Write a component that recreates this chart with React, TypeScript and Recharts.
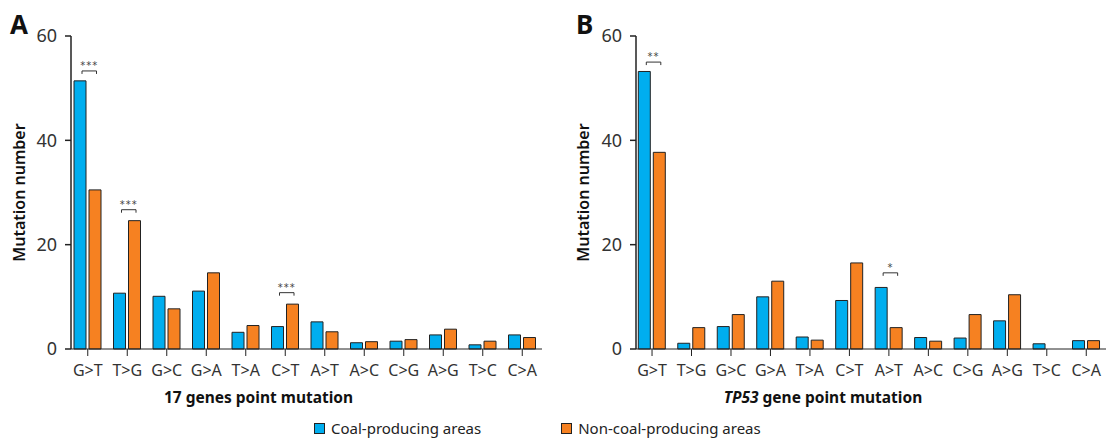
import React from 'react';
import { BarChart, Bar, XAxis, YAxis } from 'recharts';

const categories = ['G>T', 'T>G', 'G>C', 'G>A', 'T>A', 'C>T', 'A>T', 'A>C', 'C>G', 'A>G', 'T>C', 'C>A'];
const seriesNames = ['Coal-producing areas', 'Non-coal-producing areas'];

const coalA = [51.4, 10.7, 10.1, 11.1, 3.2, 4.3, 5.2, 1.2, 1.5, 2.7, 0.8, 2.7];
const nonCoalA = [30.5, 24.6, 7.7, 14.6, 4.5, 8.6, 3.3, 1.4, 1.8, 3.8, 1.5, 2.2];
const coalB = [53.2, 1.1, 4.3, 10.0, 2.3, 9.3, 11.8, 2.2, 2.1, 5.4, 1.0, 1.6];
const nonCoalB = [37.7, 4.1, 6.6, 13.0, 1.7, 16.5, 4.1, 1.5, 6.6, 10.4, 0, 1.6];

const yTicks = [0, 20, 40, 60];

// significance brackets: category, stars, height of bracket (data units)
const sigA = [
  { cat: 'G>T', mark: '***', level: 53.3 },
  { cat: 'T>G', mark: '***', level: 26.7 },
  { cat: 'C>T', mark: '***', level: 10.8 },
];
const sigB = [
  { cat: 'G>T', mark: '**', level: 55 },
  { cat: 'A>T', mark: '*', level: 14.6 },
];

const BLUE = '#00aeef';
const ORANGE = '#f68121';
const FONT = '"Noto Sans", sans-serif';

const build = (coal: number[], nonCoal: number[]) =>
  categories.map((cat, i) => ({ cat, coal: coal[i], nonCoal: nonCoal[i] }));

const makeBracket = (data: any[], sigs: any[]) => (props: any) => {
  const { x, y, width, height, index, value } = props;
  const row = data[index];
  const sig = row && sigs.find((s) => s.cat === row.cat);
  if (!sig || !value) return null;
  const base = y + height;
  const yb = base - sig.level * (height / value);
  const x1 = x + width / 2 + 2;
  const x2 = x + width * 1.5 + 3 + 1.5;
  return (
    <g key={`sig-${index}`}>
      <path d={`M${x1},${yb + 3}V${yb}H${x2}V${yb + 3}`} fill="none" stroke="#333" strokeWidth={1} />
      <text
        x={(x1 + x2) / 2}
        y={yb + 4}
        textAnchor="middle"
        fontSize={10}
        letterSpacing={1}
        fill="#444"
        fontFamily="'DejaVu Sans', sans-serif"
        dy={-6}
      >
        {sig.mark}
      </text>
    </g>
  );
};

interface PanelProps {
  data: any[];
  sigs: any[];
  letter: string;
  title: React.ReactNode;
  left: number;
  width: number;
  yAxisWidth: number;
  marginRight: number;
  padLeft: number;
  yTitleX: number;
}

const Panel = ({ data, sigs, letter, title, left, width, yAxisWidth, marginRight, padLeft, yTitleX }: PanelProps) => (
  <div style={{ position: 'absolute', left, top: 0 }}>
    <svg style={{ position: 'absolute', left: 0, top: 0, overflow: 'visible' }} width={30} height={40}>
      <text x={left === 0 ? 10 : 16} y={34} fontSize={26} fontWeight={700} fontFamily={FONT} fill="#111">
        {letter}
      </text>
    </svg>
    <BarChart
      width={width}
      height={439}
      data={data}
      margin={{ top: 36, right: marginRight, bottom: 0, left: 0 }}
      barSize={12}
      barGap={3}
    >
      <XAxis
        dataKey="cat"
        height={90}
        padding={{ left: padLeft, right: 0 }}
        interval={0}
        tickSize={7}
        tickMargin={9}
        stroke="#222"
        tick={{ fontSize: 16, fill: '#333', fontFamily: FONT }}
        label={(p: any) => {
          const vb = p.viewBox;
          return (
            <text
              x={vb.x + vb.width / 2 - 48}
              y={403}
              textAnchor="middle"
              fontSize={15.5}
              fontWeight={700}
              fill="#111"
              fontFamily={FONT}
            >
              {title}
            </text>
          );
        }}
      />
      <XAxis xAxisId="top" dataKey="cat" orientation="top" height={0} tick={false} tickLine={false} stroke="#222" />
      <YAxis
        domain={[0, 60]}
        ticks={yTicks}
        width={yAxisWidth}
        tickSize={6}
        tickMargin={8}
        stroke="#222"
        strokeWidth={1.5}
        tick={{ fontSize: 18, fill: '#333', fontFamily: FONT }}
        label={() => {
          const cy = 36 + 313 / 2;
          return (
            <text
              x={yTitleX}
              y={cy}
              transform={`rotate(-90 ${yTitleX} ${cy})`}
              textAnchor="middle"
              dominantBaseline="central"
              fontSize={16}
              fontWeight={600}
              fill="#111"
              fontFamily={FONT}
            >
              Mutation number
            </text>
          );
        }}
      />
      <YAxis yAxisId="right" orientation="right" width={0} tick={false} tickLine={false} stroke="#777" strokeWidth={2} domain={[0, 60]} />
      <Bar
        dataKey="coal"
        name={seriesNames[0]}
        fill={BLUE}
        stroke="#222"
        strokeWidth={1}
        isAnimationActive={false}
        label={makeBracket(data, sigs)}
      />
      <Bar dataKey="nonCoal" name={seriesNames[1]} fill={ORANGE} stroke="#222" strokeWidth={1} isAnimationActive={false} />
    </BarChart>
  </div>
);

const LegendItem = ({ color, text }: { color: string; text: string }) => (
  <div style={{ display: 'flex', alignItems: 'center' }}>
    <span style={{ width: 9, height: 9, background: color, border: '1px solid #222', marginRight: 6 }} />
    <span>{text}</span>
  </div>
);

export default function App() {
  const dataA = build(coalA, nonCoalA);
  const dataB = build(coalB, nonCoalB);
  return (
    <div style={{ position: 'absolute', left: 0, top: 0, width: 1107, height: 439, background: '#fff', fontFamily: FONT }}>
      <Panel
        data={dataA}
        sigs={sigA}
        letter="A"
        title="17 genes point mutation"
        left={0}
        width={560}
        yAxisWidth={71}
        marginRight={18}
        padLeft={-3}
        yTitleX={19}
      />
      <Panel
        data={dataB}
        sigs={sigB}
        letter="B"
        title={
          <>
            <tspan fontStyle="italic">TP53</tspan> gene point mutation
          </>
        }
        left={560}
        width={547}
        yAxisWidth={76}
        marginRight={1}
        padLeft={-3.7}
        yTitleX={23}
      />
      <div
        style={{
          position: 'absolute',
          left: 314,
          top: 418,
          display: 'flex',
          gap: 80,
          fontSize: 15,
          lineHeight: '20px',
          color: '#222',
        }}
      >
        <LegendItem color={BLUE} text={seriesNames[0]} />
        <LegendItem color={ORANGE} text={seriesNames[1]} />
      </div>
    </div>
  );
}
